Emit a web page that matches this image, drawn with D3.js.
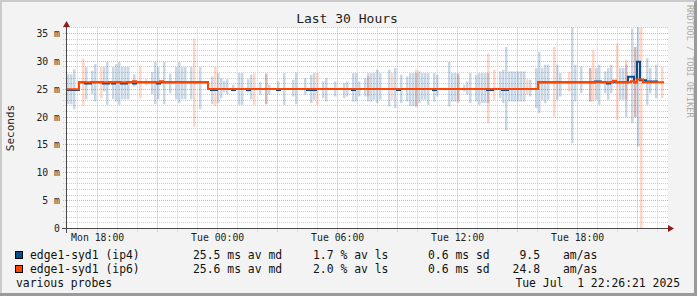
<!DOCTYPE html>
<html>
<head>
<meta charset="utf-8">
<script src="https://cdn.jsdelivr.net/npm/d3@7"></script>
<style>
html, body { margin: 0; padding: 0; background: #f3f3f3; }
svg { display: block; }
text { font-family: "DejaVu Sans Mono", monospace; white-space: pre; }
</style>
</head>
<body>
<div id="chart"></div>
<script>
var width = 697, height = 296;

// time frame of the graph, 9 minute bins
var startTime = Date.UTC(2025, 5, 30, 16, 28, 0);
var spanHours = 30;
var binMinutes = 9;

// smoke per bin: [bin, low ms, high ms]
var smokeIp4 = [
  [0,22.3,27.7],[1,22.3,27.7],[2,21.4,28.6],[6,23.2,29.0],[8,24.1,28.3],[9,22.8,29.5],
  [12,24.6,29.0],[13,22.2,29.9],[15,23.2,29.0],[16,22.8,29.5],[17,22.2,29.9],[18,23.2,29.0],
  [19,23.2,29.0],[20,23.2,29.0],[22,25.5,27.7],[28,24.1,28.1],[29,22.3,29.9],[30,23.2,29.0],
  [32,22.3,29.9],[34,24.3,27.8],[36,23.2,29.0],[37,22.5,29.9],[38,23.2,29.0],[39,23.2,29.0],
  [41,23.2,29.0],[44,21.4,29.0],[48,22.3,27.3],[50,22.5,27.9],[51,23.4,27.0],[52,24.4,26.5],
  [53,24.1,26.8],[55,24.6,25.8],[57,22.2,27.9],[58,22.2,27.9],[60,24.4,26.8],[61,23.2,27.6],
  [64,24.0,26.3],[66,22.3,27.8],[67,24.0,25.8],[70,24.6,26.4],[72,22.2,27.9],[75,23.7,26.7],
  [76,22.3,28.0],[79,24.0,27.0],[81,22.5,27.6],[82,23.1,27.9],[85,23.4,26.4],[86,22.8,27.0],
  [89,23.7,26.4],[92,23.4,26.1],[93,23.7,26.4],[95,22.8,27.9],[96,22.8,27.9],[97,23.7,26.4],
  [99,23.7,27.0],[100,22.8,27.9],[101,22.8,27.9],[102,23.1,27.9],[103,22.5,28.5],[104,23.1,27.9],
  [107,21.9,28.5],[109,21.6,28.8],[111,22.5,27.6],[113,22.8,27.3],[114,22.0,27.9],[115,22.0,27.9],
  [116,22.0,27.9],[117,22.5,28.2],[118,23.1,27.9],[119,23.1,27.9],[120,22.2,27.9],[122,22.8,27.9],
  [123,23.7,27.6],[127,21.9,29.9],[128,22.8,27.9],[129,22.8,27.9],[130,22.8,27.9],[132,24.6,25.8],
  [133,24.0,26.4],[134,22.5,27.9],[136,22.8,27.6],[137,22.2,27.9],[138,22.5,27.9],[139,22.5,27.9],
  [140,22.5,27.9],[144,23.4,28.2],[145,22.5,28.5],[146,17.6,32.6],[147,22.8,28.2],[148,22.8,28.2],
  [149,22.8,28.2],[150,22.8,28.2],[151,22.8,28.2],[152,22.8,28.2],[154,23.7,26.7],[156,21.6,28.8],
  [157,20.7,31.7],[158,23.1,28.8],[159,22.5,29.4],[160,23.1,29.4],[163,23.1,29.4],[164,23.7,27.9],
  [168,15.3,36.2],[169,22.8,29.4],[171,24.3,29.1],[174,22.8,28.8],[176,23.1,28.8],[177,22.2,29.4],
  [179,24.3,28.2],[180,23.1,28.8],[181,24.3,29.4],[184,23.1,28.8],[185,23.1,28.8],[186,20.0,29.4],
  [188,18.9,35.9],[189,20.0,32.6],[190,14.7,36.2],[193,22.2,30.6],[194,24.3,28.8],[196,23.4,29.4]
];
var smokeIp6 = [
  [5,22.0,30.5],[11,23.4,29.0],[24,23.3,29.1],[26,25.7,26.9],[42,18.3,34.1],[49,22.0,29.0],
  [62,22.2,27.9],[66,22.3,27.8],[83,22.2,27.9],[100,23.7,27.3],[108,23.1,27.9],[116,21.7,28.5],
  [130,22.5,27.6],[140,18.9,31.4],[142,23.1,28.5],[153,24.0,26.8],[162,20.1,32.6],[167,24.6,28.1],
  [174,22.8,28.8],[175,22.8,32.0],[183,19.5,33.2],[186,23.1,30.3],[189,20.0,32.6],[191,0,36.2],
  [198,23.4,29.0]
];

// median steps: [bin, ms], value holds until the next step
var medianIp4 = [
  [0,24.85],[4,26.25],[6,26.05],[8,26.25],[12,26.05],[14,26.25],[15,26.05],[16,26.25],[18,26.05],
  [20,26.25],[22,26.05],[23,26.25],[30,26.05],[31,26.25],[47,25.05],[48,24.85],[50,25.05],[55,24.85],
  [56,25.05],[60,24.85],[61,25.05],[70,24.85],[71,25.05],[80,24.85],[83,25.05],[95,24.85],[96,25.05],
  [110,24.85],[111,25.05],[122,24.85],[123,25.05],[140,24.85],[142,25.05],[145,24.85],[147,25.05],
  [157,26.25],[176,26.4],[178,26.25],[180,26.05],[181,26.25],[187,27.25],[189,26.25],[190,29.95],
  [191,26.6],[193,26.4],[197,26.4]
];
var medianIp6 = [
  [0,25.0],[4,26.25],[22,26.45],[23,26.25],[31,26.45],[32,26.25],[47,25.05],[157,26.25],[182,26.5],
  [183,26.25],[188,26.45],[189,26.25],[190,26.75],[192,26.25],[199,26.25]
];

// y axis ticks
var yMajor = [0, 5, 10, 15, 20, 25, 30, 35];
var yMax = 36.08;

// legend
var legendNames = ["edge1-syd1 (ip4)", "edge1-syd1 (ip6)"];
var legendMedian = [25.5, 25.6];
var legendLoss = [1.7, 2.0];
var legendSd = [0.6, 0.6];
var legendAmas = [9.5, 24.8];
var seriesColor = ["#0c4b8a", "#ff4500"];
var smokeAlpha = 0.22;

var svg = d3.select("#chart")
  .append("svg")
  .attr("width", width)
  .attr("height", height);

// canvas + 3d frame
svg.append("rect").attr("width", width).attr("height", height).attr("fill", "#f3f3f3");
svg.append("path").attr("d", "M0,0H697V2H2V296H0Z").attr("fill", "#cbcbcb");
svg.append("path").attr("d", "M697,0V296H0V293H694V2Z").attr("fill", "#9a9a9a");

var x = d3.scaleUtc()
  .domain([startTime, startTime + spanHours * 3600e3])
  .range([67, 667]);
var y = d3.scaleLinear()
  .domain([0, yMax])
  .range([228.5, 27.5]);

function binTime(b) { return startTime + b * binMinutes * 60e3; }
function crisp(v) { return Math.round(v - 0.5) + 0.5; }

// plot background
svg.append("rect")
  .attr("x", x.range()[0]).attr("y", y(yMax))
  .attr("width", x.range()[1] - x.range()[0] + 1)
  .attr("height", y(0) - y(yMax))
  .attr("fill", "#ffffff");

var grid = svg.append("g");

// horizontal grid, minor each 1 ms, major each 5 ms
d3.range(1, Math.floor(yMax) + 1).forEach(function(v) {
  var major = v % 5 === 0;
  grid.append("line")
    .attr("x1", 63).attr("x2", 668)
    .attr("y1", crisp(y(v))).attr("y2", crisp(y(v)))
    .attr("stroke", major ? "#eba5a5" : "#cfcfcf")
    .attr("stroke-dasharray", "1,1");
});

// vertical grid, minor each hour, major each 3 hours
var hourTicks = d3.utcHour.range(x.domain()[0], x.domain()[1]);
hourTicks.forEach(function(t) {
  var major = t.getUTCHours() % 3 === 0;
  grid.append("line")
    .attr("x1", crisp(x(t))).attr("x2", crisp(x(t)))
    .attr("y1", 27.5).attr("y2", 232)
    .attr("stroke", major ? "#eba5a5" : "#cfcfcf")
    .attr("stroke-dasharray", "1,1");
});

// smoke, one thin bar per bin
function drawSmoke(data, color) {
  svg.append("g").selectAll("rect")
    .data(data)
    .enter()
    .append("rect")
    .attr("x", function(d) { return x(binTime(d[0])); })
    .attr("width", function(d) { return x(binTime(d[0] + 1)) - x(binTime(d[0])) - 0.5; })
    .attr("y", function(d) { return y(Math.min(d[2], yMax)); })
    .attr("height", function(d) { return y(d[1]) - y(Math.min(d[2], yMax)); })
    .attr("fill", color)
    .attr("fill-opacity", smokeAlpha);
}
drawSmoke(smokeIp4, seriesColor[0]);
drawSmoke(smokeIp6, seriesColor[1]);

// median lines
var medLine = d3.line()
  .x(function(d) { return x(binTime(d[0])); })
  .y(function(d) { return y(d[1]); })
  .curve(d3.curveStepAfter);

svg.append("path")
  .datum(medianIp4)
  .attr("d", medLine)
  .attr("fill", "none")
  .attr("stroke", seriesColor[0])
  .attr("stroke-width", 2);

svg.append("path")
  .datum(medianIp6)
  .attr("d", medLine)
  .attr("fill", "none")
  .attr("stroke", seriesColor[1])
  .attr("stroke-width", 2);

// axes
svg.append("line")
  .attr("x1", 62).attr("x2", 671)
  .attr("y1", 228.5).attr("y2", 228.5)
  .attr("stroke", "#4a4a4a");
svg.append("line")
  .attr("x1", 66.5).attr("x2", 66.5)
  .attr("y1", 233).attr("y2", 25)
  .attr("stroke", "#4a4a4a");
svg.append("path").attr("d", "M668,225L674,228.5L668,232Z").attr("fill", "#8e1c1c");
svg.append("path").attr("d", "M63,27L66.5,21L70,27Z").attr("fill", "#8e1c1c");

// y labels
svg.append("g").selectAll("text")
  .data(yMajor)
  .enter()
  .append("text")
  .attr("x", 60)
  .attr("y", function(d) { return y(d); })
  .attr("dy", "0.36em")
  .attr("text-anchor", "end")
  .attr("font-size", "9.8px")
  .attr("fill", "#222")
  .text(function(d) { return d === 0 ? "0" : d + " m"; });

// x labels every 6 hours
var labelTicks = hourTicks.filter(function(t) { return t.getUTCHours() % 6 === 0; });
var fmt = d3.utcFormat("%a %H:%M");
svg.append("g").selectAll("text")
  .data(labelTicks)
  .enter()
  .append("text")
  .attr("x", function(d) { return x(d); })
  .attr("y", 241)
  .attr("text-anchor", "middle")
  .attr("font-size", "9.8px")
  .attr("fill", "#222")
  .text(function(d) { return fmt(d); });

// title
svg.append("text")
  .attr("x", 347).attr("y", 23)
  .attr("text-anchor", "middle")
  .attr("font-size", "13px")
  .attr("fill", "#222")
  .text("Last 30 Hours");

// vertical label
svg.append("text")
  .attr("transform", "translate(14,128) rotate(-90)")
  .attr("text-anchor", "middle")
  .attr("font-size", "11px")
  .attr("fill", "#222")
  .text("Seconds");

// watermark
svg.append("text")
  .attr("transform", "translate(687,5) rotate(90)")
  .attr("font-size", "8.5px")
  .attr("fill", "#aaaaaa")
  .text("RRDTOOL / TOBI OETIKER");

// legend
var legendY = [259, 273];
var lfs = "11.4px";
legendNames.forEach(function(name, i) {
  svg.append("rect")
    .attr("x", 15.5).attr("y", legendY[i] - 7.5)
    .attr("width", 7).attr("height", 7)
    .attr("fill", seriesColor[i])
    .attr("stroke", "#000");
  var cols = [
    [30, "start", name],
    [193, "start", legendMedian[i].toFixed(1) + " ms av md"],
    [313, "start", legendLoss[i].toFixed(1) + " % av ls"],
    [428, "start", legendSd[i].toFixed(1) + " ms sd"],
    [540, "end", legendAmas[i].toFixed(1)],
    [563, "start", "am/as"]
  ];
  cols.forEach(function(c) {
    svg.append("text")
      .attr("x", c[0]).attr("y", legendY[i])
      .attr("text-anchor", c[1])
      .attr("font-size", lfs)
      .attr("fill", "#111")
      .text(c[2]);
  });
});
svg.append("text")
  .attr("x", 16).attr("y", 287)
  .attr("font-size", lfs)
  .attr("fill", "#111")
  .text("various probes");
svg.append("text")
  .attr("x", 680).attr("y", 287)
  .attr("text-anchor", "end")
  .attr("font-size", lfs)
  .attr("fill", "#111")
  .text("Tue Jul  1 22:26:21 2025");
</script>
</body>
</html>
